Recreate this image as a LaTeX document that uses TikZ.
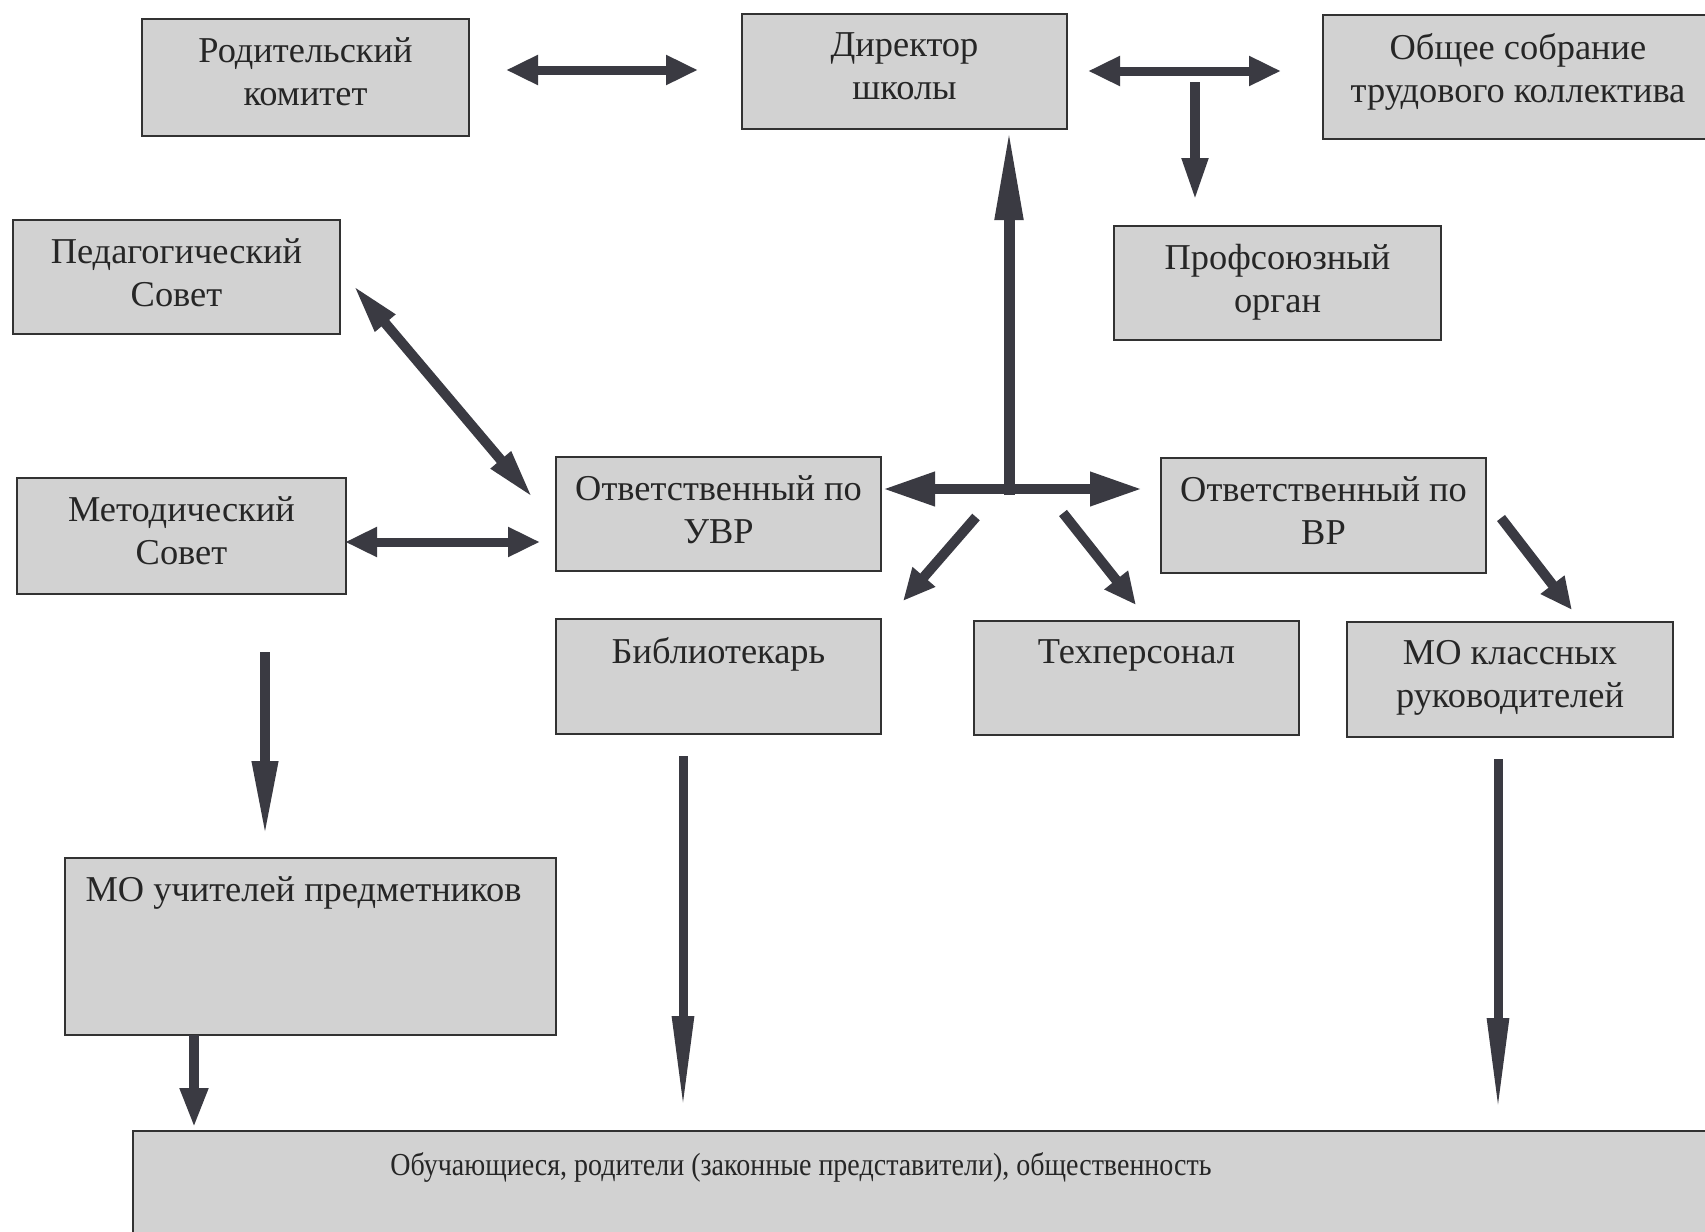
\documentclass[tikz,border=0pt]{standalone}
\usepackage{fontspec}
\usepackage{graphicx}
\setmainfont{Liberation Serif}
\usetikzlibrary{arrows.meta}
\definecolor{boxfill}{RGB}{210,210,210}
\definecolor{boxline}{RGB}{50,50,50}
\definecolor{arr}{RGB}{58,58,66}
\tikzset{
  bx/.style 2 args={draw=boxline, line width=1pt, fill=boxfill, rectangle, anchor=north west,
    inner sep=0pt, minimum width=#1*0.5pt, minimum height=#2*0.5pt},
  lbl/.style={anchor=north, align=center, inner sep=0pt, text=black!85,
    font=\fontsize{18.2}{21.5}\selectfont},
  dbl/.style={draw=arr, line width=4.5pt, {Triangle[length=16pt,width=14pt]}-{Triangle[length=16pt,width=14pt]}},
  sgl/.style n args={3}{draw=arr, line width=#1, -{Triangle[length=#2,width=#3]}},
}
\begin{document}
\begin{tikzpicture}[x=0.5pt,y=-0.5pt]
\useasboundingbox (0,0) rectangle (1705,1232);
\fill[white] (0,0) rectangle (1705,1232);
\begin{scope}
\clip (0,0) rectangle (1705,1232);
% boxes
\node[bx={327}{117}] (rk) at (141,18) {};
\node[bx={325}{115}] (dir) at (741,13) {};
\node[bx={390}{124}] (os) at (1322,14) {};
\node[bx={327}{114}] (ps) at (12,219) {};
\node[bx={327}{114}] (prof) at (1113,225) {};
\node[bx={329}{116}] (ms) at (16,477) {};
\node[bx={325}{114}] (uvr) at (555,456) {};
\node[bx={325}{115}] (vr) at (1160,457) {};
\node[bx={325}{115}] (bib) at (555,618) {};
\node[bx={325}{114}] (tech) at (973,620) {};
\node[bx={326}{115}] (mok) at (1346,621) {};
\node[bx={491}{177}] (mou) at (64,857) {};
\node[bx={1590}{120}] (ob) at (132,1130) {};
\end{scope}
% labels
\node[lbl] (trk) at ([yshift=-9.5pt]rk.north) {Родительский\\комитет};
\node[lbl] (tdir) at ([yshift=-9.5pt]dir.north) {Директор\\школы};
\node[lbl] (tos) at ([yshift=-9.5pt]os.north) {Общее собрание\\трудового коллектива};
\node[lbl] (tps) at ([yshift=-9.5pt]ps.north) {Педагогический\\Совет};
\node[lbl] (tprof) at ([yshift=-9.5pt]prof.north) {Профсоюзный\\орган};
\node[lbl] (tms) at ([yshift=-9.5pt]ms.north) {Методический\\Совет};
\node[lbl] (tuvr) at ([yshift=-9.5pt]uvr.north) {Ответственный по\\УВР};
\node[lbl] (tvr) at ([yshift=-9.5pt]vr.north) {Ответственный по\\ВР};
\node[lbl] (tbib) at ([yshift=-9.5pt]bib.north) {Библиотекарь};
\node[lbl] (ttech) at ([yshift=-9.5pt]tech.north) {Техперсонал};
\node[lbl] (tmok) at ([yshift=-9.5pt]mok.north) {МО классных\\руководителей};
\node[lbl] (tmou) at ([xshift=-3.5pt,yshift=-9.5pt]mou.north) {МО учителей предметников};
\node[lbl, anchor=base, font=\fontsize{16}{19}\selectfont] (tob) at (801,1175) {\scalebox{0.875}[1]{Обучающиеся, родители (законные представители), общественность}};
% connector end points
\coordinate (a1) at (506,70);   \coordinate (b1) at (698,70);
\coordinate (a2) at (1088,71);  \coordinate (b2) at (1281,71);
\coordinate (a3) at (1195,82);  \coordinate (b3) at (1195,201);
\coordinate (a4) at (1009,495); \coordinate (b4) at (1009,128);
\coordinate (a5) at (883,489);  \coordinate (b5) at (1142,489);
\coordinate (a6) at (976,517);  \coordinate (b6) at (903,601);
\coordinate (a7) at (1063,513); \coordinate (b7) at (1136,605);
\coordinate (a8) at (353,285);  \coordinate (b8) at (533,498);
\coordinate (a9) at (345,542);  \coordinate (b9) at (540,542);
\coordinate (a10) at (1501,518); \coordinate (b10) at (1572,610);
\coordinate (a11) at (265,652); \coordinate (b11) at (265,837);
\coordinate (a12) at (683,756); \coordinate (b12) at (683,1111);
\coordinate (a13) at (1498,759); \coordinate (b13) at (1498,1113);
\coordinate (a14) at (194,1035); \coordinate (b14) at (194,1128);
% connectors
\draw[dbl] (a1) -- (b1);
\draw[dbl] (a2) -- (b2);
\draw[sgl={5pt}{21.5pt}{12pt}] (a3) -- (b3);
\draw[sgl={5.5pt}{46pt}{13pt}] (a4) -- (b4);
\draw[draw=arr, line width=5pt, {Triangle[length=26pt,width=16pt]}-{Triangle[length=26pt,width=16pt]}] (a5) -- (b5);
\draw[sgl={5pt}{16pt}{14pt}] (a6) -- (b6);
\draw[sgl={5pt}{16pt}{14pt}] (a7) -- (b7);
\draw[draw=arr, line width=5pt, {Triangle[length=25pt,width=12pt]}-{Triangle[length=25pt,width=12pt]}] (a8) -- (b8);
\draw[dbl] (a9) -- (b9);
\draw[sgl={5pt}{16pt}{14pt}] (a10) -- (b10);
\draw[sgl={5pt}{38pt}{12pt}] (a11) -- (b11);
\draw[sgl={4.5pt}{47.5pt}{10pt}] (a12) -- (b12);
\draw[sgl={4.5pt}{47.5pt}{10pt}] (a13) -- (b13);
\draw[sgl={5pt}{20pt}{13pt}] (a14) -- (b14);
\end{tikzpicture}
\end{document}
